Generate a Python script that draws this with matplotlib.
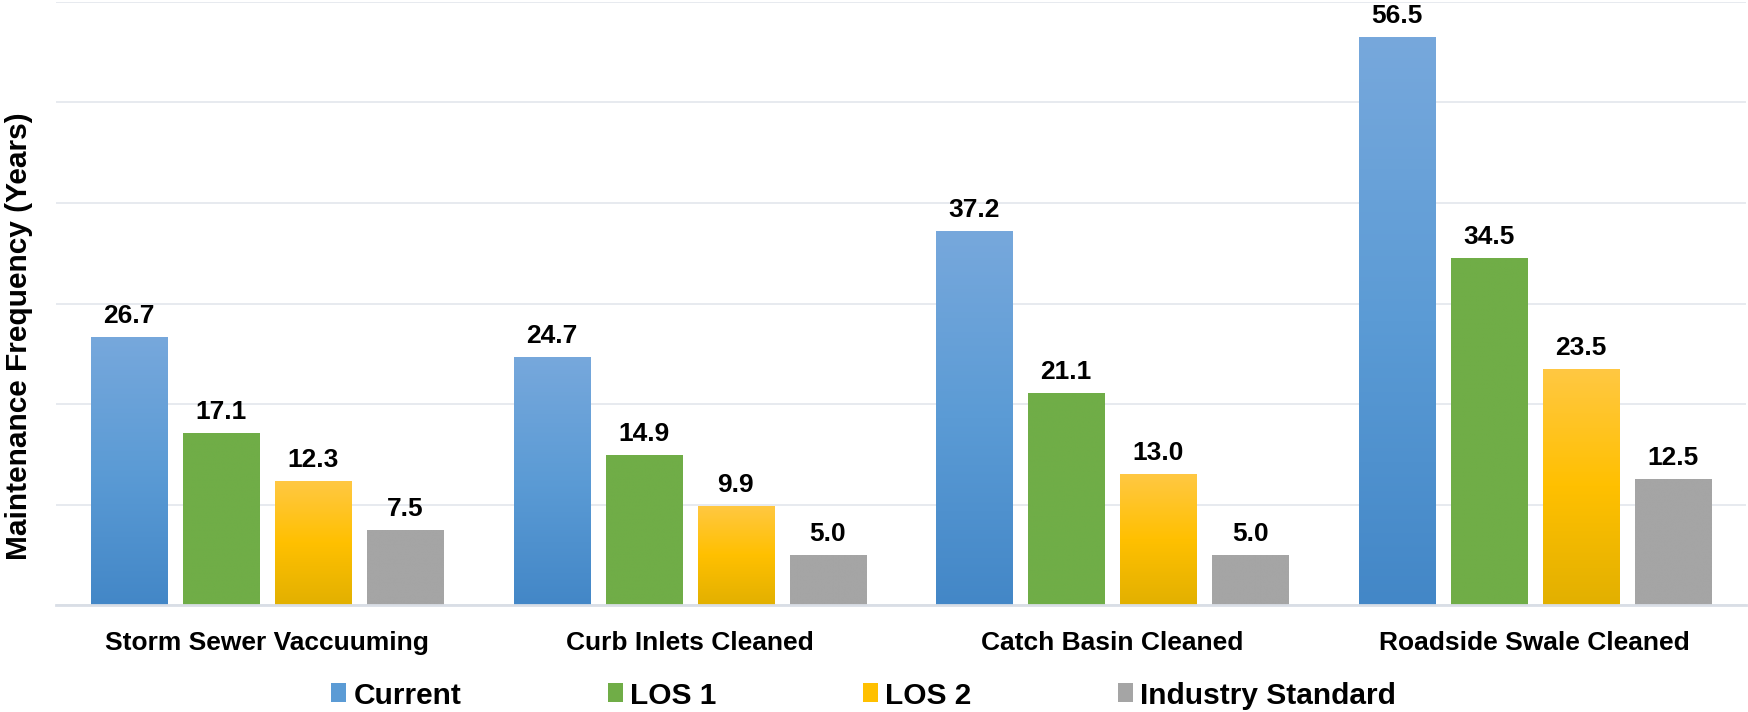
import numpy as np
import matplotlib
matplotlib.use("Agg")
import matplotlib.pyplot as plt
from matplotlib.colors import LinearSegmentedColormap
from matplotlib.patches import Patch

categories = ["Storm Sewer Vaccuuming", "Curb Inlets Cleaned", "Catch Basin Cleaned", "Roadside Swale Cleaned"]
series_names = ["Current", "LOS 1", "LOS 2", "Industry Standard"]
current = [26.7, 24.7, 37.2, 56.5]
los1 = [17.1, 14.9, 21.1, 34.5]
los2 = [12.3, 9.9, 13.0, 23.5]
industry = [7.5, 5.0, 5.0, 12.5]
all_series = [current, los1, los2, industry]

# colour styles: (top, mid, bottom) gradients or solid
styles = [
    ("#77A8DC", "#5B9BD5", "#4387C7"),
    ("#70AD47", "#70AD47", "#70AD47"),
    ("#FFC843", "#FFC000", "#E2B000"),
    ("#A5A5A5", "#A5A5A5", "#A5A5A5"),
]

plt.rcParams['font.family'] = ['Liberation Sans', 'DejaVu Sans']
plt.rcParams['font.weight'] = 'bold'

fig = plt.figure(figsize=(17.48, 7.12), dpi=100)
ax = fig.add_axes([56/1748, 107/712, 1690/1748, 603/712])

n = len(categories)
x = np.arange(n)
width = 0.18
step = 0.218
offsets = (np.arange(4) - 1.5) * step

for s, (vals, st) in enumerate(zip(all_series, styles)):
    bars = ax.bar(x + offsets[s], vals, width, color=st[1], zorder=2, linewidth=0)
    cmap = LinearSegmentedColormap.from_list(f"g{s}", [st[2], st[1], st[0]])
    grad = np.linspace(0, 1, 256).reshape(-1, 1)
    for b, v in zip(bars, vals):
        bx, by, bw, bh = b.get_x(), b.get_y(), b.get_width(), b.get_height()
        im = ax.imshow(grad, extent=[bx, bx + bw, by, by + bh], origin='lower',
                       aspect='auto', cmap=cmap, zorder=2.5, interpolation='bilinear')
        im.set_clip_path(b)
        ax.annotate(f"{v:.1f}", xy=(bx + bw / 2, by + bh), xytext=(0, 10),
                    textcoords='offset points', ha='center', va='baseline',
                    fontsize=19, fontweight='bold', color='black', zorder=4)

ax.set_xlim(-0.5, n - 0.5)
ax.set_ylim(0, 60)
ax.set_yticks(np.arange(0, 61, 10))
ax.yaxis.grid(True, color='#E3E6EC', linewidth=1.2, zorder=0)
ax.set_axisbelow(True)
ax.tick_params(axis='y', left=False, labelleft=False)
ax.set_xticks(x)
ax.set_xticklabels(categories, fontsize=19, fontweight='bold')
ax.tick_params(axis='x', bottom=False, pad=15)
for sp in ['top', 'right', 'left']:
    ax.spines[sp].set_visible(False)
ax.spines['bottom'].set_color('#D9DEE6')
ax.spines['bottom'].set_linewidth(2)
ax.spines['bottom'].set_zorder(3)

fig.text(19/1748, 1 - 336/712, "Maintenance Frequency (Years)", rotation=90,
         ha='center', va='center', fontsize=21.5, fontweight='bold')

handles = [Patch(facecolor=st[1], edgecolor='none') for st in styles]
fig.legend(handles, series_names, loc='center', bbox_to_anchor=(0.494, 16.5/712),
           ncol=4, frameon=False, prop={'size': 21.5, 'weight': 'bold'},
           handlelength=0.5, handleheight=0.6, handletextpad=0.25, columnspacing=4.9,
           borderaxespad=0, borderpad=0)

fig.savefig("out.png", dpi=100)
